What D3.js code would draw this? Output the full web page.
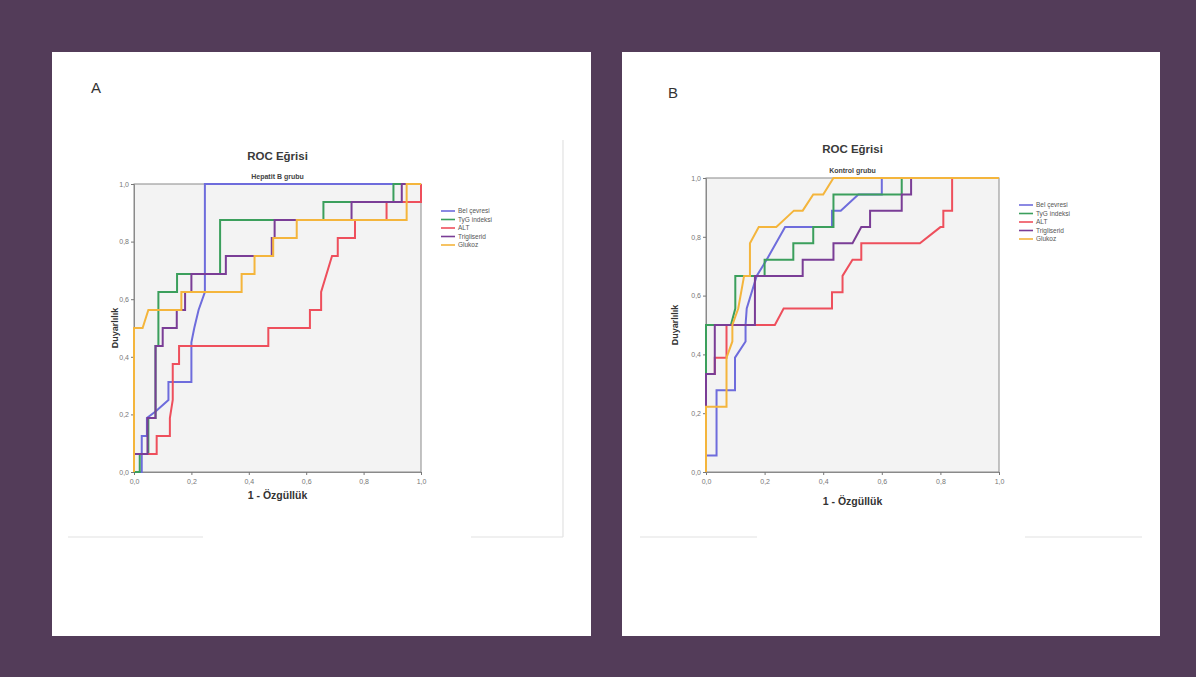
<!DOCTYPE html>
<html><head><meta charset="utf-8">
<script src="https://cdn.jsdelivr.net/npm/d3@7/dist/d3.min.js"></script>
<style>html,body{margin:0;padding:0;background:#533c59;}svg{display:block}</style>
</head><body><svg id="c" width="1196" height="677"></svg>
<script>
// ---------- data ----------
const seriesNames = ["Bel çevresi", "TyG indeksi", "ALT", "Trigliserid", "Glukoz"];
const seriesColors = ["#6e6cdc", "#3b9f5c", "#ee4f5c", "#7a3d96", "#f4b53c"];
const tickValues = [0, 0.2, 0.4, 0.6, 0.8, 1.0];
const tickLabels = ["0,0", "0,2", "0,4", "0,6", "0,8", "1,0"];

// Panel A: Hepatit B grubu  [1 - specificity, sensitivity]
const hepBel = [[0,0],[0.027,0],[0.027,0.125],[0.045,0.125],[0.045,0.1875],[0.075,0.21],[0.12,0.25],[0.12,0.3125],[0.2,0.3125],[0.2,0.45],[0.21,0.5],[0.225,0.5625],[0.247,0.625],[0.247,1],[1,1]];
const hepTyg = [[0,0],[0.02,0],[0.02,0.0625],[0.05,0.0625],[0.05,0.1875],[0.075,0.1875],[0.075,0.4375],[0.085,0.4375],[0.085,0.625],[0.15,0.625],[0.15,0.6875],[0.3,0.6875],[0.3,0.875],[0.66,0.875],[0.66,0.9375],[0.904,0.9375],[0.904,1],[1,1]];
const hepAlt = [[0,0],[0,0.0625],[0.079,0.0625],[0.079,0.125],[0.125,0.125],[0.125,0.1875],[0.135,0.25],[0.135,0.375],[0.157,0.375],[0.157,0.4375],[0.468,0.4375],[0.468,0.5],[0.613,0.5],[0.613,0.5625],[0.652,0.5625],[0.652,0.625],[0.69,0.75],[0.71,0.75],[0.71,0.8125],[0.77,0.8125],[0.77,0.875],[0.88,0.875],[0.88,0.9375],[1,0.9375],[1,1]];
const hepTri = [[0,0],[0,0.0625],[0.047,0.0625],[0.047,0.1875],[0.075,0.1875],[0.075,0.4375],[0.1,0.4375],[0.1,0.5],[0.149,0.5],[0.149,0.5625],[0.178,0.5625],[0.178,0.625],[0.2,0.625],[0.2,0.6875],[0.32,0.6875],[0.32,0.75],[0.48,0.75],[0.48,0.8125],[0.49,0.8125],[0.49,0.875],[0.758,0.875],[0.758,0.9375],[0.933,0.9375],[0.933,1],[1,1]];
const hepGlu = [[0,0],[0,0.5],[0.03,0.5],[0.05,0.5625],[0.165,0.5625],[0.165,0.625],[0.375,0.625],[0.375,0.6875],[0.42,0.6875],[0.42,0.75],[0.485,0.75],[0.485,0.8125],[0.567,0.8125],[0.567,0.875],[0.95,0.875],[0.95,1],[1,1]];

// Panel B: Kontrol grubu
const konBel = [[0,0],[0,0.056],[0.036,0.056],[0.036,0.278],[0.099,0.278],[0.099,0.389],[0.135,0.444],[0.135,0.5],[0.139,0.556],[0.173,0.667],[0.207,0.722],[0.27,0.833],[0.43,0.833],[0.43,0.889],[0.46,0.889],[0.52,0.944],[0.6,0.944],[0.6,1],[1,1]];
const konTyg = [[0,0],[0,0.5],[0.085,0.5],[0.1,0.556],[0.1,0.667],[0.2,0.667],[0.2,0.722],[0.298,0.722],[0.298,0.778],[0.366,0.778],[0.366,0.833],[0.435,0.833],[0.435,0.944],[0.668,0.944],[0.668,1],[1,1]];
const konAlt = [[0,0],[0,0.333],[0.03,0.333],[0.03,0.389],[0.07,0.389],[0.07,0.5],[0.235,0.5],[0.265,0.556],[0.43,0.556],[0.43,0.611],[0.466,0.611],[0.466,0.667],[0.5,0.722],[0.53,0.722],[0.53,0.778],[0.73,0.778],[0.8,0.833],[0.81,0.833],[0.81,0.889],[0.84,0.889],[0.84,1],[1,1]];
const konTri = [[0,0],[0,0.333],[0.03,0.333],[0.03,0.5],[0.167,0.5],[0.167,0.667],[0.33,0.667],[0.33,0.722],[0.435,0.722],[0.435,0.778],[0.5,0.778],[0.53,0.833],[0.56,0.833],[0.56,0.889],[0.668,0.889],[0.668,0.944],[0.7,0.944],[0.7,1],[1,1]];
const konGlu = [[0,0],[0,0.222],[0.07,0.222],[0.07,0.389],[0.09,0.444],[0.09,0.5],[0.11,0.556],[0.13,0.667],[0.15,0.667],[0.15,0.778],[0.18,0.833],[0.24,0.833],[0.3,0.889],[0.33,0.889],[0.366,0.944],[0.4,0.944],[0.435,1],[1,1]];

// ---------- drawing ----------
const svg = d3.select("#c");
svg.append("rect").attr("x",0).attr("y",0).attr("width",1196).attr("height",677).attr("fill","#533c59");
const FONT = "'Liberation Sans', Arial, sans-serif";

function drawPanel(cfg) {
  const g = svg.append("g");
  g.append("rect").attr("x",cfg.px).attr("y",cfg.py).attr("width",cfg.pw).attr("height",cfg.ph).attr("fill","#ffffff");
  // faint chart frame remnants
  cfg.frame.forEach(f => g.append("line").attr("x1",f[0]).attr("y1",f[1]).attr("x2",f[2]).attr("y2",f[3])
    .attr("stroke","#e2e2e2").attr("stroke-width",1.2));
  g.append("text").attr("x",cfg.letter[0]).attr("y",cfg.letter[1]).text(cfg.letterText)
    .attr("font-family",FONT).attr("font-size",15).attr("fill","#333");

  const x = d3.scaleLinear().domain([0,1]).range([cfg.l, cfg.r]);
  const y = d3.scaleLinear().domain([0,1]).range([cfg.b, cfg.t]);

  g.append("rect").attr("x",cfg.l).attr("y",cfg.t).attr("width",cfg.r-cfg.l).attr("height",cfg.b-cfg.t)
    .attr("fill","#f3f3f3").attr("stroke","#8a8a8a").attr("stroke-width",1);

  const ax = g.append("g").attr("transform",`translate(0,${cfg.b})`)
    .call(d3.axisBottom(x).tickValues(tickValues).tickFormat((d,i)=>tickLabels[i]).tickSize(3).tickPadding(4));
  const ay = g.append("g").attr("transform",`translate(${cfg.l},0)`)
    .call(d3.axisLeft(y).tickValues(tickValues).tickFormat((d,i)=>tickLabels[i]).tickSize(3).tickPadding(2));
  [ax, ay].forEach(a => {
    a.select(".domain").attr("stroke","#8a8a8a");
    a.selectAll(".tick line").attr("stroke","#777");
    a.selectAll("text").attr("font-family",FONT).attr("font-size",7).attr("fill","#777");
  });

  const line = d3.line().x(d=>x(d[0])).y(d=>y(d[1]));
  cfg.series.forEach((s,i) => {
    g.append("path").datum(s).attr("d",line).attr("fill","none")
      .attr("stroke",seriesColors[i]).attr("stroke-width",2).attr("stroke-linejoin","miter");
  });

  const cx = (cfg.l+cfg.r)/2;
  g.append("text").attr("x",cx).attr("y",cfg.titleY).attr("text-anchor","middle").text("ROC Eğrisi")
    .attr("font-family",FONT).attr("font-size",11.5).attr("font-weight","bold").attr("fill","#3a3a3a");
  g.append("text").attr("x",cx).attr("y",cfg.subY).attr("text-anchor","middle").text(cfg.subtitle)
    .attr("font-family",FONT).attr("font-size",7).attr("font-weight","bold").attr("fill","#444");
  g.append("text").attr("x",cx).attr("y",cfg.xLabY).attr("text-anchor","middle").text("1 - Özgüllük")
    .attr("font-family",FONT).attr("font-size",10.5).attr("font-weight","bold").attr("fill","#333");
  g.append("text").attr("transform",`translate(${cfg.yLabX},${(cfg.t+cfg.b)/2}) rotate(-90)`)
    .attr("text-anchor","middle").text("Duyarlılık")
    .attr("font-family",FONT).attr("font-size",9).attr("font-weight","bold").attr("fill","#333");

  seriesNames.forEach((n,i) => {
    const ly = cfg.legY + i*cfg.legDy;
    g.append("line").attr("x1",cfg.legX).attr("x2",cfg.legX+14).attr("y1",ly).attr("y2",ly)
      .attr("stroke",seriesColors[i]).attr("stroke-width",1.6);
    g.append("text").attr("x",cfg.legX+17).attr("y",ly+2.3).text(n)
      .attr("font-family",FONT).attr("font-size",6.5).attr("fill","#555");
  });
}

drawPanel({
  px:52, py:52, pw:539, ph:584, letter:[91,93], letterText:"A",
  frame:[[68,537,203,537],[471,537,563,537],[563,140,563,537]],
  l:134, r:421, t:184, b:472, titleY:160, subY:179, xLabY:499, yLabX:118,
  subtitle:"Hepatit B grubu", legX:441, legY:211, legDy:8.5,
  series:[hepBel, hepTyg, hepAlt, hepTri, hepGlu]
});
drawPanel({
  px:622, py:52, pw:538, ph:584, letter:[668,98], letterText:"B",
  frame:[[640,537,757,537],[1025,537,1142,537]],
  l:706, r:999, t:178, b:472, titleY:153, subY:173, xLabY:505, yLabX:678,
  subtitle:"Kontrol grubu", legX:1019, legY:205, legDy:8.5,
  series:[konBel, konTyg, konAlt, konTri, konGlu]
});
</script></body></html>
